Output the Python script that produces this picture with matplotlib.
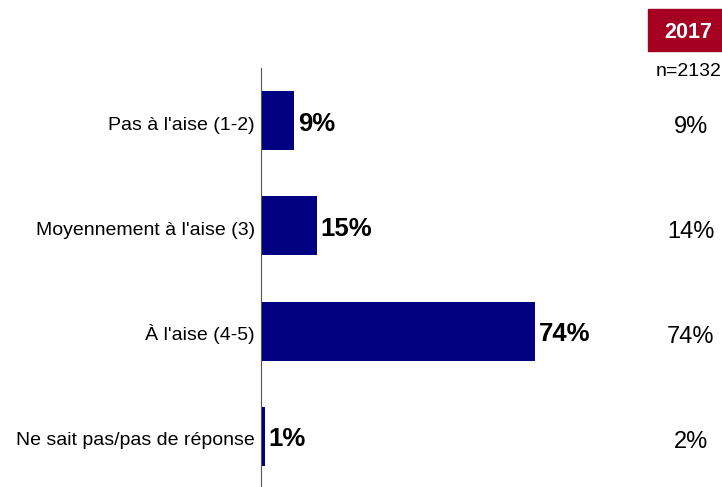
import numpy as np
import matplotlib.pyplot as plt
from matplotlib.transforms import ScaledTranslation

plt.rcParams['font.family'] = ['Liberation Sans', 'DejaVu Sans']

categories = ["Pas à l'aise (1-2)", "Moyennement à l'aise (3)", "À l'aise (4-5)",
              "Ne sait pas/pas de réponse"]
values_2019 = [9, 15, 74, 1]
values_2017 = [9, 14, 74, 2]
year_label = '2017'
n_label = 'n=2132'

fig = plt.figure(figsize=(7.22, 4.87), dpi=100)
ax = fig.add_axes([261 / 722, 0, 370 / 722, 419 / 487])

def px(dx, dy):
    # décalage en pixels (y vers le bas)
    return ScaledTranslation(dx / 100, -dy / 100, fig.dpi_scale_trans)

y = np.arange(len(categories))
ax.barh(y, values_2019, height=0.56, color='#000080')
for yi, v in zip(y, values_2019):
    ax.text(v, yi, f'{v}%', va='baseline', ha='left', fontsize=18.5, fontweight='bold',
            transform=ax.transData + px(4, 10))

for yi, lab in zip(y, categories):
    ax.text(0, yi, lab, va='baseline', ha='right', fontsize=14,
            transform=ax.transData + px(-6, 9))

ax.set_xlim(0, 100)
ax.set_ylim(3.48, -0.5)
ax.set_yticks([])
ax.set_xticks([])
for s in ['top', 'right', 'bottom']:
    ax.spines[s].set_visible(False)
ax.spines['left'].set_color('#555555')

# colonne 2017
for yi, v in zip(y, values_2017):
    ax.text(0, yi, f'{v}%', ha='center', va='baseline', fontsize=17,
            transform=ax.get_yaxis_transform() + px(691 - 261, 12))
    ax.texts[-1].set_x(0)

fig.patches.append(plt.Rectangle((648 / 722, 1 - 51 / 487), 74 / 722, 42 / 487,
                                 transform=fig.transFigure, color='#A50021'))
fig.text(688 / 722, 1 - 38 / 487, year_label, ha='center', va='baseline',
         color='white', fontsize=15.5, fontweight='bold')
fig.text(689 / 722, 1 - 76 / 487, n_label, ha='center', va='baseline', fontsize=14)

fig.savefig('out.png', dpi=100)
